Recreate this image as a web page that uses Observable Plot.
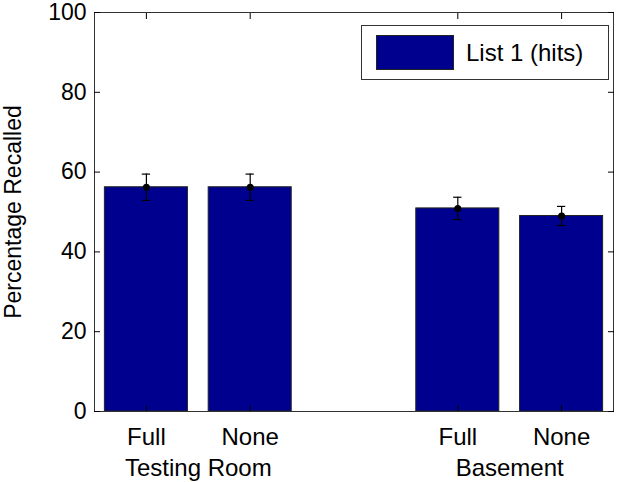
<!DOCTYPE html>
<html><head><meta charset="utf-8">
<script src="https://cdn.jsdelivr.net/npm/d3@7"></script>
<script src="https://cdn.jsdelivr.net/npm/@observablehq/plot@0.6"></script>
<style>
body{margin:0;background:#fff;font-family:"Liberation Sans",Arial,sans-serif}
#wrap{position:relative;width:617px;height:482px}
#legend{position:absolute;left:361px;top:25px;width:246px;height:53px;border:1px solid #333;background:#fff;box-sizing:content-box}
#legend .sw{position:absolute;left:14px;top:9px;width:78px;height:35px;background:#00008F;border:1px solid #222;box-sizing:border-box}
#legend .lb{position:absolute;left:104px;top:0;height:53px;line-height:53px;font-size:24px;color:#000;white-space:nowrap}
</style>
</head><body><div id="wrap"><div id="chart"></div></div>
<script>
const conditions = ["Full", "None", "Full", "None"];
const locations = ["Testing Room", "Testing Room", "Basement", "Basement"];
const positions = [1, 2, 4, 5];
const hits = [56.2, 56.2, 50.9, 49.0];
const errors = [3.3, 3.3, 2.8, 2.4];
const groupLabels = ["Testing Room", "Basement"];
const groupCenters = [1.5, 4.5];
const yTicks = [0, 20, 40, 60, 80, 100];
const yLabel = "Percentage Recalled";
const legendLabel = "List 1 (hits)";

const data = positions.map((p, i) => ({pos: p, cond: conditions[i], loc: locations[i], hits: hits[i], err: errors[i]}));
const groups = groupLabels.map((g, i) => ({label: g, x: groupCenters[i]}));
const barColor = "#00008F";
const half = 0.4, cap = 0.04;
const fs = 24;

const chart = Plot.plot({
  width: 617, height: 482,
  marginLeft: 94, marginRight: 4, marginTop: 12, marginBottom: 71,
  style: {fontFamily: '"Liberation Sans", Arial, sans-serif', fontSize: fs + "px", color: "#000", background: "#fff", overflow: "visible"},
  x: {type: "linear", domain: [0.5, 5.5]},
  y: {domain: [0, 100]},
  marks: [
    Plot.rectY(data, {x1: d => d.pos - half, x2: d => d.pos + half, y1: 0, y2: "hits", fill: barColor, stroke: "#222", strokeWidth: 1}),
    Plot.ruleX(data, {x: "pos", y1: d => d.hits - d.err, y2: d => d.hits + d.err, stroke: "#000", strokeWidth: 1.2}),
    Plot.ruleY(data, {y: d => d.hits + d.err, x1: d => d.pos - cap, x2: d => d.pos + cap, stroke: "#000", strokeWidth: 1.2}),
    Plot.ruleY(data, {y: d => d.hits - d.err, x1: d => d.pos - cap, x2: d => d.pos + cap, stroke: "#000", strokeWidth: 1.2}),
    Plot.dot(data, {x: "pos", y: "hits", r: 3.5, fill: "#000"}),
    Plot.frame({stroke: "#333", strokeWidth: 1}),
    Plot.axisY({anchor: "left", ticks: yTicks, tickSize: -6, tickPadding: 14, label: null, fontSize: 23}),
    Plot.axisY({anchor: "right", ticks: yTicks, tickSize: -6, tickFormat: () => "", label: null}),
    Plot.axisX({anchor: "bottom", ticks: positions, tickSize: -6, tickPadding: 22, tickFormat: d => conditions[positions.indexOf(d)], label: null, fontSize: fs}),
    Plot.axisX({anchor: "top", ticks: positions, tickSize: -6, tickFormat: () => "", label: null}),
    Plot.text(groups, {x: "x", text: "label", frameAnchor: "bottom", lineAnchor: "top", dy: 47, fontSize: fs, fill: "#000"}),
    Plot.text([yLabel], {text: d => d, frameAnchor: "left", textAnchor: "middle", lineAnchor: "middle", rotate: -90, dx: -81, fontSize: fs - 1, fill: "#000"})
  ]
});
document.getElementById("chart").appendChild(chart);
const lg = document.createElement("div");
lg.id = "legend";
lg.innerHTML = '<div class="sw"></div><div class="lb"></div>';
lg.querySelector(".lb").textContent = legendLabel;
document.getElementById("wrap").appendChild(lg);
</script>
</body></html>
